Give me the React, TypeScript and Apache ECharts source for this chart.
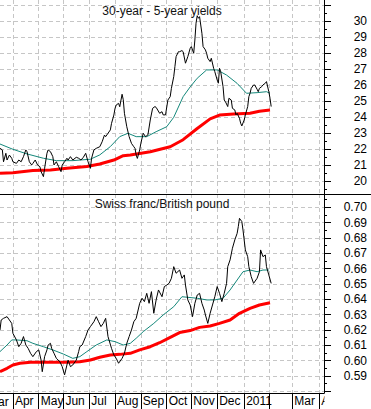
import { useEffect, useRef } from 'react';
import * as echarts from 'echarts';

// Trading-day axis (weekdays) shown in the chart
const START_DAY = '2010-03-17';
const END_DAY = '2011-04-07';
const MONTHS = ['Jan', 'Feb', 'Mar', 'Apr', 'May', 'Jun', 'Jul', 'Aug', 'Sep', 'Oct', 'Nov', 'Dec'];

// ---- 30-year minus 5-year yields (trading-day offset, value) ----
const spreadDays = [0, 2, 3, 5, 6, 8, 10, 11, 14, 16, 18, 20, 22, 23, 25, 27, 28, 30, 32, 34, 35, 37, 38, 40, 41, 43, 45, 46, 48, 50, 52, 53, 55, 57, 58, 60, 62, 65, 67, 69, 71, 73, 75, 77, 78, 80, 82, 85, 87, 89, 90, 92, 94, 95, 97, 98, 99, 101, 102, 104, 105, 106, 108, 110, 112, 114, 115, 116, 117, 119, 120, 122, 124, 126, 128, 130, 132, 133, 136, 138, 139, 141, 143, 145, 146, 148, 149, 150, 152, 153, 155, 156, 158, 159, 160, 162, 163, 165, 166, 167, 168, 169, 170, 172, 173, 175, 176, 177, 179, 180, 182, 183, 185, 186, 187, 188, 190, 191, 192, 194, 195, 197, 198, 200, 201, 202, 204, 205, 206, 208, 209, 211, 212, 213, 214, 216, 217, 219, 220, 221, 223, 224, 226, 227, 229, 230, 231];
const spreadValues = [22.06, 21.96, 21.22, 21.75, 21.33, 21.64, 21.44, 21.22, 21.12, 21.33, 21.22, 21.54, 21.96, 21.85, 21.22, 21.02, 21.12, 21.33, 21.02, 20.91, 20.6, 20.29, 20.81, 21.75, 21.96, 21.85, 21.54, 21.02, 21.22, 20.91, 20.6, 21.02, 21.22, 21.44, 21.33, 21.54, 21.33, 21.5, 21.44, 21.33, 21.5, 21.75, 21.22, 20.81, 21.44, 21.96, 22.06, 22.16, 22.47, 22.89, 22.79, 23.0, 23.21, 23.62, 24.14, 24.56, 24.77, 24.87, 24.66, 25.44, 25.1, 24.25, 23.41, 22.79, 22.37, 22.16, 22.06, 21.64, 21.43, 21.96, 22.38, 23.0, 22.79, 22.9, 23.83, 24.56, 24.67, 24.62, 24.25, 24.35, 24.15, 24.15, 25.08, 25.29, 25.81, 26.54, 27.17, 27.79, 28.1, 28.1, 28.17, 28.1, 27.38, 27.58, 27.79, 28.31, 28.42, 28.0, 28.83, 29.88, 30.35, 30.19, 30.29, 29.25, 28.42, 28.21, 28.0, 27.69, 27.48, 27.69, 27.06, 26.85, 26.33, 26.13, 27.06, 26.85, 25.92, 25.08, 24.98, 24.67, 25.19, 25.08, 24.56, 24.46, 24.15, 24.25, 23.94, 23.63, 23.46, 23.83, 24.15, 24.67, 25.29, 25.5, 25.81, 26.02, 26.02, 25.75, 25.6, 25.81, 25.92, 26.02, 26.13, 26.23, 25.6, 25.19, 24.67];
const spreadShortMaDays = [0, 11, 23, 37, 48, 62, 77, 85, 94, 102, 109, 116, 125, 133, 142, 148, 156, 162, 168, 176, 185, 193, 202, 210, 219, 227, 230];
const spreadShortMaValues = [22.33, 22.0, 21.71, 21.44, 21.29, 21.29, 21.38, 21.65, 22.17, 22.79, 23.0, 22.79, 22.79, 23.1, 23.41, 24.0, 25.29, 25.9, 26.44, 26.96, 26.96, 26.64, 26.12, 25.5, 25.54, 25.6, 25.5];
const spreadLongMaDays = [0, 11, 28, 43, 57, 74, 85, 97, 105, 111, 128, 145, 156, 168, 179, 187, 199, 213, 221, 230];
const spreadLongMaValues = [20.5, 20.54, 20.67, 20.71, 20.81, 20.92, 21.08, 21.33, 21.6, 21.65, 21.85, 22.16, 22.6, 23.3, 23.9, 24.14, 24.2, 24.25, 24.38, 24.45];
const spreadTicks = [20, 21, 22, 23, 24, 25, 26, 27, 28, 29, 30, 31];
const spreadLabels = [20, 21, 22, 23, 24, 25, 26, 27, 28, 29, 30];
const spreadMinorTicks = [19.5, 20.5, 21.5, 22.5, 23.5, 24.5, 25.5, 26.5, 27.5, 28.5, 29.5, 30.5];

// ---- Swiss franc / British pound ----
const fxDays = [0, 1, 3, 6, 8, 10, 11, 14, 16, 18, 20, 22, 24, 26, 28, 31, 33, 35, 36, 38, 40, 41, 43, 44, 46, 48, 51, 53, 55, 56, 58, 60, 62, 65, 67, 68, 70, 73, 75, 77, 80, 82, 84, 86, 88, 90, 92, 95, 97, 99, 101, 104, 106, 108, 110, 112, 114, 116, 119, 121, 123, 125, 127, 129, 131, 133, 135, 138, 140, 142, 144, 146, 148, 150, 153, 155, 157, 158, 160, 162, 164, 166, 168, 170, 172, 174, 175, 177, 179, 181, 183, 185, 187, 189, 191, 193, 194, 196, 198, 200, 202, 203, 204, 206, 207, 209, 211, 212, 214, 216, 219, 221, 222, 224, 226, 227, 229, 231];
const fxValues = [0.62, 0.6265, 0.6276, 0.6287, 0.6265, 0.6243, 0.6178, 0.6135, 0.6091, 0.6113, 0.6157, 0.6102, 0.608, 0.6048, 0.6026, 0.6059, 0.607, 0.6004, 0.5928, 0.6026, 0.607, 0.6102, 0.6113, 0.608, 0.6048, 0.6015, 0.5993, 0.5961, 0.5907, 0.5939, 0.6004, 0.5961, 0.5972, 0.6004, 0.6059, 0.6091, 0.6102, 0.6157, 0.62, 0.6222, 0.6254, 0.6287, 0.6254, 0.6222, 0.6243, 0.6276, 0.6157, 0.608, 0.6037, 0.6015, 0.5983, 0.6015, 0.6048, 0.6113, 0.6157, 0.62, 0.6254, 0.6276, 0.6374, 0.6407, 0.6385, 0.6439, 0.6374, 0.645, 0.6309, 0.6396, 0.6461, 0.6417, 0.6483, 0.6493, 0.6504, 0.6537, 0.6613, 0.657, 0.6591, 0.6537, 0.6559, 0.6493, 0.6396, 0.6363, 0.6287, 0.6374, 0.6428, 0.6439, 0.6374, 0.633, 0.6298, 0.6243, 0.6309, 0.6363, 0.6417, 0.6483, 0.6439, 0.6385, 0.6439, 0.6504, 0.6613, 0.6657, 0.6733, 0.6787, 0.683, 0.6874, 0.6928, 0.6907, 0.6852, 0.6722, 0.6678, 0.6613, 0.6548, 0.6504, 0.6537, 0.658, 0.6722, 0.6678, 0.6689, 0.6613, 0.6559, 0.6504];
const fxShortMaDays = [0, 6, 10, 14, 23, 28, 37, 45, 54, 62, 68, 74, 82, 91, 98, 105, 111, 116, 122, 131, 139, 148, 155, 160, 168, 176, 183, 190, 196, 202, 207, 213, 219, 224, 229];
const fxShortMaValues = [0.6059, 0.6102, 0.6135, 0.6135, 0.613, 0.6113, 0.6091, 0.607, 0.6043, 0.6015, 0.6026, 0.6059, 0.6102, 0.6135, 0.6124, 0.6102, 0.6113, 0.6146, 0.6189, 0.6243, 0.6298, 0.6352, 0.6417, 0.6413, 0.6407, 0.6396, 0.6396, 0.6407, 0.6461, 0.6526, 0.658, 0.6591, 0.658, 0.6591, 0.6591];
const fxLongMaDays = [0, 6, 11, 17, 26, 37, 48, 57, 68, 77, 85, 94, 102, 111, 119, 128, 136, 145, 153, 162, 170, 179, 187, 196, 204, 213, 221, 230];
const fxLongMaValues = [0.5928, 0.595, 0.5972, 0.5983, 0.5989, 0.5989, 0.5989, 0.5989, 0.5993, 0.6004, 0.6022, 0.6037, 0.6041, 0.6048, 0.607, 0.6091, 0.6117, 0.6152, 0.6183, 0.6196, 0.6217, 0.6226, 0.6243, 0.6265, 0.6309, 0.6341, 0.6363, 0.6378];
const fxTicks = [0.58, 0.59, 0.6, 0.61, 0.62, 0.63, 0.64, 0.65, 0.66, 0.67, 0.68, 0.69, 0.7];
const fxLabels = [0.59, 0.6, 0.61, 0.62, 0.63, 0.64, 0.65, 0.66, 0.67, 0.68, 0.69, 0.7];
const fxMinorTicks = [0.585, 0.595, 0.605, 0.615, 0.625, 0.635, 0.645, 0.655, 0.665, 0.675, 0.685, 0.695, 0.705];

const TOP_TITLE = '30-year - 5-year yields';
const BOTTOM_TITLE = 'Swiss franc/British pound';

const FONT = '"Liberation Sans", Arial, sans-serif';

function weekdays(start: string, end: string): string[] {
  const out: string[] = [];
  let d = new Date(start + 'T00:00:00Z');
  const e = new Date(end + 'T00:00:00Z');
  while (d <= e) {
    const w = d.getUTCDay();
    if (w !== 0 && w !== 6) out.push(d.toISOString().slice(0, 10));
    d = new Date(d.getTime() + 86400000);
  }
  return out;
}

function zip(days: number[], vals: number[]) {
  return days.map((d, i) => [d, vals[i]]);
}

export default function App() {
  const ref = useRef<HTMLDivElement>(null);

  useEffect(() => {
    if (!ref.current) return;
    const chart = echarts.init(ref.current, undefined, { renderer: 'svg' });

    const cats = weekdays(START_DAY, END_DAY);
    const monthOf = (s: string) => Number(s.slice(5, 7)) - 1;
    const isMonthStart = cats.map((c, i) => i > 0 && monthOf(c) !== monthOf(cats[i - 1]));
    const labelOf = (c: string) => {
      const m = monthOf(c);
      if (m === 0) return c.slice(0, 4);
      if (m === 1) return '';
      return MONTHS[m];
    };

    const gridLine = { color: '#c6c6c6', type: [4, 3], width: 1 };

    const xBase = {
      type: 'category' as const,
      data: cats,
      boundaryGap: false,
      splitLine: { show: true, interval: (i: number) => isMonthStart[i], lineStyle: gridLine },
    };

    const mainY = (grid: number, min: number, max: number, ticks: number[], labels: number[], fmt: (v: number) => string) => ({
      type: 'value' as const,
      gridIndex: grid,
      position: 'right' as const,
      min,
      max,
      axisLine: { show: true, onZero: false, lineStyle: { color: '#000', width: 1 } },
      axisTick: { show: true, customValues: ticks, length: 7, lineStyle: { color: '#000' } },
      axisLabel: {
        show: true,
        customValues: labels,
        formatter: fmt,
        align: 'right',
        margin: 43,
        padding: [5, 0, 0, 0],
        color: '#000',
        fontSize: 12,
        fontFamily: FONT,
      },
      splitLine: { show: true, lineStyle: gridLine },
    });
    const minorY = (grid: number, min: number, max: number, ticks: number[]) => ({
      type: 'value' as const,
      gridIndex: grid,
      position: 'right' as const,
      offset: 0,
      min,
      max,
      axisLine: { show: false },
      axisTick: { show: true, customValues: ticks, length: 3, lineStyle: { color: '#000' } },
      axisLabel: { show: false },
      splitLine: { show: false },
    });

    const topMin = 19.206, topMax = 31.331;
    const botMin = 0.57891, botMax = 0.70867;

    const line = (name: string, xi: number, yi: number, data: number[][], color: string, width: number, z: number) => ({
      name,
      type: 'line' as const,
      xAxisIndex: xi,
      yAxisIndex: yi,
      data,
      showSymbol: false,
      symbol: 'none',
      silent: true,
      z,
      lineStyle: { color, width },
    });

    const teal = '#14877a';

    chart.setOption({
      animation: false,
      backgroundColor: '#fff',
      grid: [
        { left: 0, right: 47, top: 0, height: 194 },
        { left: 0, right: 47, top: 194, height: 199 },
      ],
      xAxis: [
        {
          ...xBase,
          gridIndex: 0,
          axisLine: { show: false },
          axisTick: { show: false },
          axisLabel: { show: false },
        },
        {
          ...xBase,
          gridIndex: 1,
          axisLine: { show: true, onZero: false, lineStyle: { color: '#000' } },
          axisTick: { show: true, interval: (i: number) => isMonthStart[i], length: 16, lineStyle: { color: '#000' } },
          axisLabel: {
            show: true,
            interval: (i: number) => isMonthStart[i],
            formatter: (v: string) => labelOf(v),
            align: 'left',
            padding: [0, 0, 0, 2],
            margin: 2,
            color: '#000',
            fontSize: 12,
            fontFamily: FONT,
          },
        },
      ],
      yAxis: [
        mainY(0, topMin, topMax, spreadTicks, spreadLabels, (v: number) => String(v)),
        minorY(0, topMin, topMax, spreadMinorTicks),
        mainY(1, botMin, botMax, fxTicks, fxLabels, (v: number) => v.toFixed(2)),
        minorY(1, botMin, botMax, fxMinorTicks),
      ],
      series: [
        line('spread 200', 0, 0, zip(spreadLongMaDays, spreadLongMaValues), '#ff0000', 3, 3),
        line('spread 50', 0, 0, zip(spreadShortMaDays, spreadShortMaValues), teal, 1, 4),
        line('spread', 0, 0, zip(spreadDays, spreadValues), '#000', 1, 5),
        line('fx 200', 1, 2, zip(fxLongMaDays, fxLongMaValues), '#ff0000', 3, 3),
        line('fx 50', 1, 2, zip(fxShortMaDays, fxShortMaValues), teal, 1, 4),
        line('fx', 1, 2, zip(fxDays, fxValues), '#000', 1, 5),
      ],
      graphic: [
        {
          type: 'line',
          z: 100,
          shape: { x1: 0, y1: 194.5, x2: 371, y2: 194.5 },
          style: { stroke: '#000', lineWidth: 1 },
        },
        {
          type: 'text',
          z: 100,
          x: 162,
          y: 11,
          style: { text: TOP_TITLE, fill: '#111', font: '12px ' + FONT, textAlign: 'center', textVerticalAlign: 'middle', align: 'center', verticalAlign: 'middle' },
        },
        {
          type: 'text',
          z: 100,
          x: 162,
          y: 204,
          style: { text: BOTTOM_TITLE, fill: '#111', font: '12px ' + FONT, textAlign: 'center', textVerticalAlign: 'middle', align: 'center', verticalAlign: 'middle' },
        },
        {
          type: 'text',
          z: 100,
          x: -12,
          y: 402,
          style: { text: 'Mar', fill: '#000', font: '12px ' + FONT, textAlign: 'left', textVerticalAlign: 'middle', align: 'left', verticalAlign: 'middle' },
        },
        {
          type: 'rect',
          z: 100,
          shape: { x: 324.5, y: 394, width: 47, height: 15 },
          style: { fill: '#fff' },
        },
      ],
    });

    return () => chart.dispose();
  }, []);

  return <div ref={ref} style={{ position: 'absolute', left: 0, top: 0, width: 371, height: 409 }} />;
}
